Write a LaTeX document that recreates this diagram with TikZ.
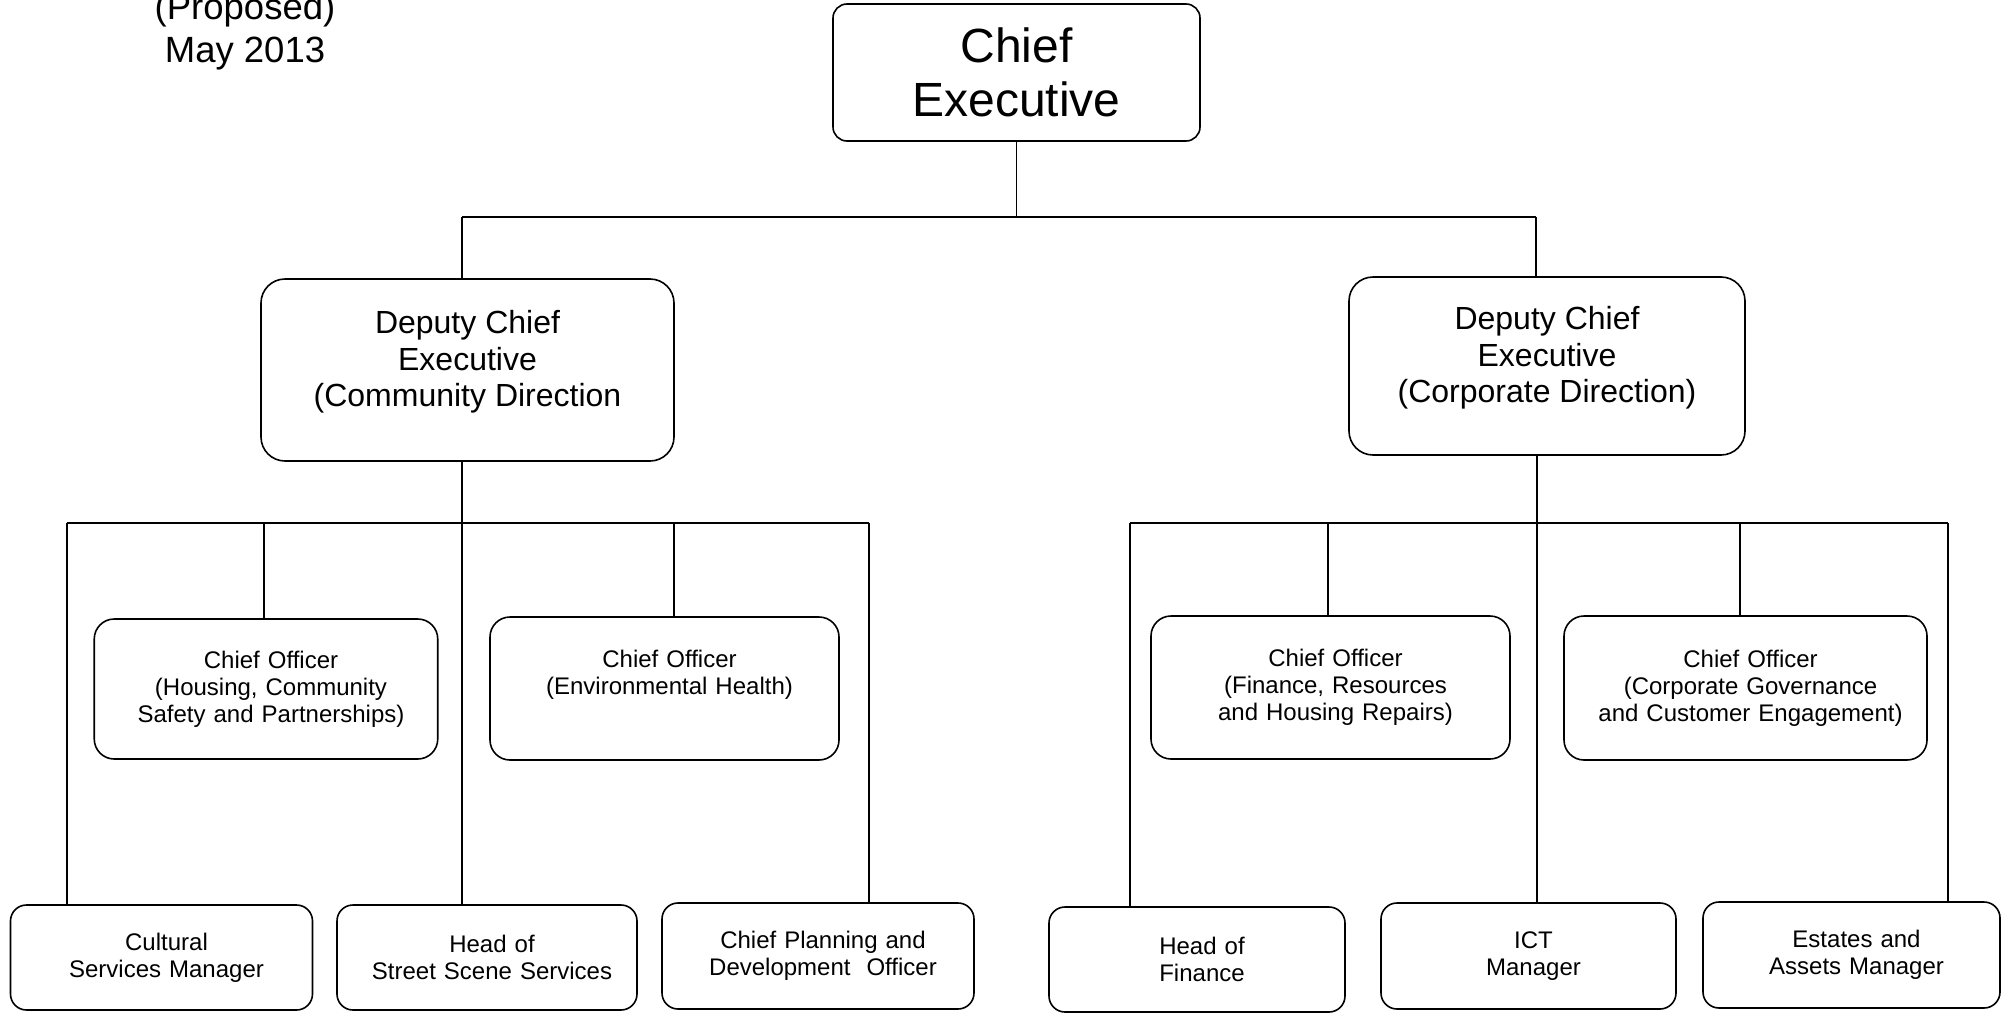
\documentclass[tikz,border=0pt]{standalone}
\usepackage{fontspec}
\setmainfont{Liberation Sans}
\usepackage{tikz}
\definecolor{ink}{HTML}{000000}

\begin{document}
\begin{tikzpicture}[x=0.5pt,y=-0.5pt,
  post/.style={draw=ink,line width=0.8pt,align=center,inner sep=0pt},
  nudge/.style={execute at begin node={\advance\leftskip by 5pt}},
  link/.style={draw=ink,line width=0.65pt},
  bus/.style={draw=ink,line width=1pt},
  tiny/.style={font=\fontsize{12pt}{13.4pt}\selectfont}]
  \useasboundingbox (0,0) rectangle (2002,1012);
  \clip (0,0) rectangle (2002,1012);
  \fill[white] (0,0) rectangle (2002,1012);

  \node[font=\fontsize{18.25pt}{21.5pt}\selectfont,align=center,anchor=north,inner sep=0pt] (date) at (245,-7) {(Proposed)\\May 2013};

  \node[post,rounded corners=7pt,minimum width=183.5pt,minimum height=68.5pt,font=\fontsize{24pt}{27pt}\selectfont] (ce) at (1016.5,72.5) {Chief\\Executive};
  \node[post,rounded corners=12pt,minimum width=206.5pt,minimum height=91pt,font=\fontsize{16pt}{18.35pt}\selectfont] (dcc) at (467.5,370) {Deputy Chief\\Executive\\(Community Direction\\[-7pt]\mbox{}};
  \node[post,rounded corners=12pt,minimum width=198pt,minimum height=89pt,font=\fontsize{16pt}{18.35pt}\selectfont] (dcp) at (1547,366) {Deputy Chief\\Executive\\(Corporate Direction)\\[-7pt]\mbox{}};

  \foreach \nm/\cx/\cy/\bw/\bh/\txt in {
      coh/266/689/171.75/70/{Chief Officer\\(Housing, Community\\Safety and Partnerships)},
      coe/664.5/688.5/174.5/71.5/{Chief Officer\\(Environmental Health)\\[2.5pt]\mbox{}},
      cof/1330.5/687.5/179.5/71.5/{Chief Officer\\(Finance, Resources\\and Housing Repairs)},
      cog/1745.5/688/181.5/72/{Chief Officer\\(Corporate Governance\\and Customer Engagement)}}
    \node[post,tiny,nudge,rounded corners=10pt,text width=\bw pt,minimum height=\bh pt] (\nm) at (\cx,\cy) {\txt};

  \foreach \nm/\cx/\cy/\bw/\bh/\txt in {
      csm/161.5/957.5/151/52.5/{Cultural\\Services Manager},
      hss/487/957.5/150/52.5/{Head of\\Street Scene Services},
      cpd/818/956/156/53/{Chief Planning and\\Development~ Officer},
      hof/1197/959.5/148/52.5/{Head of\\Finance},
      ict/1528.5/956/147.5/53/{ICT\\Manager},
      eam/1851.5/955/148.5/53/{Estates and\\Assets Manager}}
    \node[post,tiny,nudge,rounded corners=8pt,text width=\bw pt,minimum height=\bh pt] (\nm) at (\cx,\cy) {\txt};

  \coordinate (tl) at (462,217);
  \coordinate (tr) at (1536,217);
  \draw[link] (ce.south) -- (ce.south |- tl);
  \draw[bus] (tl) -- (tr);
  \draw[link] (tl) -- (tl |- dcc.north);
  \draw[link] (tr) -- (tr |- dcp.north);

  \foreach \nd/\xx in {csm/67,coh/264,hss/462,coe/674,cpd/869,hof/1130,cof/1328,ict/1537,cog/1740,eam/1948}{
    \coordinate (d\nd) at (\xx,523);
    \draw[link] (d\nd) -- (d\nd |- \nd.north);
  }
  \draw[bus] (dcsm) -- (dcpd);
  \draw[bus] (dhof) -- (deam);
  \draw[link] (dhss |- dcc.south) -- (dhss);
  \draw[link] (dict |- dcp.south) -- (dict);
\end{tikzpicture}
\end{document}
